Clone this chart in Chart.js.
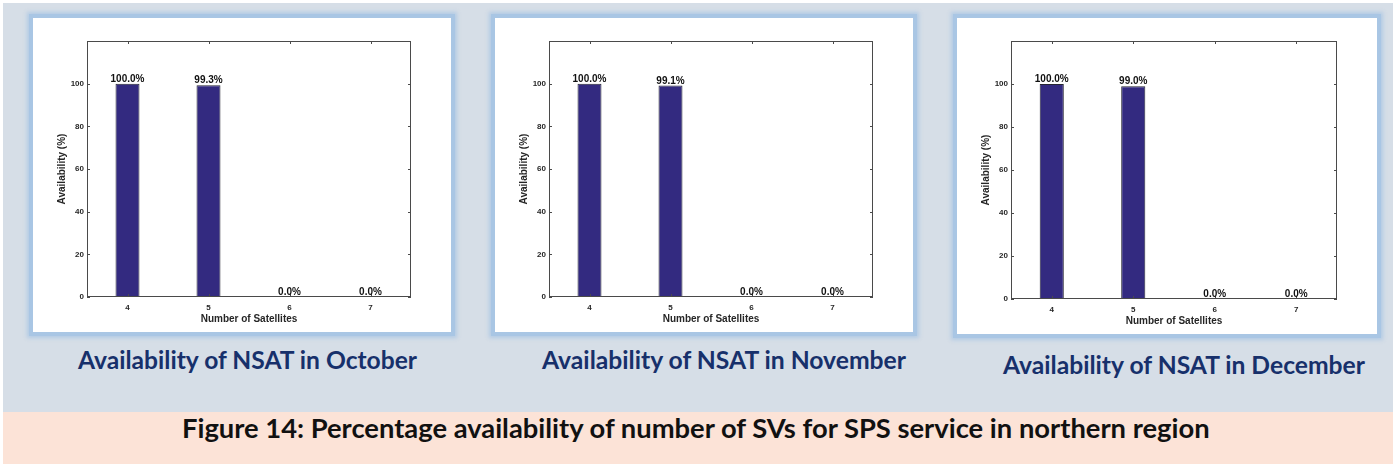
<!DOCTYPE html>
<html>
<head>
<meta charset="utf-8">
<script src="https://cdn.jsdelivr.net/npm/chart.js@4/dist/chart.umd.min.js"></script>
<style>
  body { margin: 0; width: 1397px; height: 466px; background: #fff; position: relative; overflow: hidden; }
  #bg { position: absolute; left: 3px; top: 3px; width: 1390px; height: 409px; background: #d6dee7; }
  #banner { position: absolute; left: 3px; top: 412px; width: 1390px; height: 52px; background: #fce3d7; }
  .panel { position: absolute; background: #fff; border: 4px solid #a9c6e4; box-shadow: 0 0 4px 2px rgba(169, 198, 228, 0.8); }
  .panel canvas { display: block; }
  .cap { position: absolute; font-family: Lato, sans-serif; font-weight: 700; white-space: nowrap; line-height: 1; }
</style>
</head>
<body>
<div id="bg"></div>
<div id="banner"></div>

<div class="panel" style="left:29px;top:14px;"><canvas id="chartOct" width="418" height="314"></canvas></div>
<div class="panel" style="left:491px;top:14px;"><canvas id="chartNov" width="418" height="314"></canvas></div>
<div class="panel" style="left:953px;top:14px;"><canvas id="chartDec" width="420" height="316"></canvas></div>

<div class="cap" id="capOct" style="color:#17306b"></div>
<div class="cap" id="capNov" style="color:#17306b"></div>
<div class="cap" id="capDec" style="color:#17306b"></div>
<div class="cap" id="figCap" style="color:#111"></div>

<script>
// data
const satellites = ["4", "5", "6", "7"];
const octValues = [100.0, 99.3, 0.0, 0.0];
const novValues = [100.0, 99.1, 0.0, 0.0];
const decValues = [100.0, 99.0, 0.0, 0.0];
const yTicks = [0, 20, 40, 60, 80, 100];
const yMax = 120;

const captionOct = "Availability of NSAT in October";
const captionNov = "Availability of NSAT in November";
const captionDec = "Availability of NSAT in December";
const figureCaption = "Figure 14: Percentage availability of number of SVs for SPS service in northern region";

const axisFont = "'Liberation Sans', Arial, sans-serif";

// box around the plot with inward ticks (like matlab)
const frameTicks = {
  id: "frameTicks",
  afterDatasetsDraw(chart) {
    const { ctx, chartArea: a, scales } = chart;
    const x = scales.x, y = scales.y;
    const line = (x1, y1, x2, y2) => {
      ctx.beginPath();
      ctx.moveTo(x1, y1);
      ctx.lineTo(x2, y2);
      ctx.stroke();
    };
    ctx.save();
    ctx.strokeStyle = "#4a4a4a";
    ctx.lineWidth = 1;
    ctx.strokeRect(Math.round(a.left) + 0.5, Math.round(a.top) + 0.5,
      Math.round(a.width) - 1, Math.round(a.height) - 1);
    yTicks.forEach((v) => {
      const py = Math.round(y.getPixelForValue(v)) + 0.5;
      line(a.left, py, a.left + 3, py);
      line(a.right - 3, py, a.right, py);
    });
    x.ticks.forEach((t, i) => {
      const px = Math.round(x.getPixelForTick(i)) + 0.5;
      line(px, a.bottom, px, a.bottom - 3);
      line(px, a.top, px, a.top + 3);
    });
    ctx.restore();
  },
};

// percentage labels above the bars
const barLabels = {
  id: "barLabels",
  afterDatasetsDraw(chart) {
    const ctx = chart.ctx;
    const meta = chart.getDatasetMeta(0);
    const values = chart.data.datasets[0].data;
    ctx.save();
    ctx.font = "bold 10px " + axisFont;
    ctx.fillStyle = "#111";
    ctx.textAlign = "center";
    ctx.textBaseline = "alphabetic";
    meta.data.forEach((bar, i) => {
      ctx.fillText(values[i].toFixed(1) + "%", bar.x, bar.y - 2);
    });
    ctx.restore();
  },
};

function makeChart(id, values) {
  const ctx = document.getElementById(id);
  return new Chart(ctx, {
    type: "bar",
    data: {
      labels: satellites,
      datasets: [
        {
          data: values,
          backgroundColor: "#332a80",
          borderColor: "#262633",
          borderWidth: 1,
          barPercentage: 0.296,
          categoryPercentage: 1,
        },
      ],
    },
    options: {
      responsive: false,
      animation: false,
      devicePixelRatio: 1,
      layout: { padding: { top: 23, right: 40, left: 0, bottom: 0 } },
      plugins: { legend: { display: false }, tooltip: { enabled: false } },
      scales: {
        x: {
          grid: { display: false, drawTicks: false },
          border: { display: false },
          ticks: { color: "#262626", padding: 6, font: { family: axisFont, size: 8, weight: "bold" } },
          title: {
            display: true,
            text: "Number of Satellites",
            color: "#262626",
            font: { family: axisFont, size: 10, weight: "bold" },
            padding: { top: 0, bottom: 7 },
          },
          afterFit: (s) => { s.height = 35; },
        },
        y: {
          min: 0,
          max: yMax,
          grid: { display: false, drawTicks: false },
          border: { display: false },
          ticks: {
            stepSize: 20,
            color: "#262626",
            padding: 3,
            font: { family: axisFont, size: 8, weight: "bold" },
            callback: (v) => (yTicks.includes(v) ? v : null),
          },
          title: {
            display: true,
            text: "Availability (%)",
            color: "#262626",
            font: { family: axisFont, size: 10, weight: "bold" },
            padding: { top: 23.5, bottom: 0 },
          },
          afterFit: (s) => { s.width = 54; },
        },
      },
    },
    plugins: [frameTicks, barLabels],
  });
}

makeChart("chartOct", octValues);
makeChart("chartNov", novValues);
makeChart("chartDec", decValues);

// captions: size the text to the width it has in the figure
function placeText(id, text, left, right, capMid) {
  const el = document.getElementById(id);
  el.textContent = text;
  const m = document.createElement("canvas").getContext("2d");
  m.font = "bold 100px Lato";
  const fs = (100 * (right - left)) / m.measureText(text).width;
  el.style.fontSize = fs + "px";
  el.style.left = left + "px";
  el.style.top = capMid - 0.53 * fs + "px";
}

placeText("capOct", captionOct, 78, 419, 361);
placeText("capNov", captionNov, 542, 908, 361);
placeText("capDec", captionDec, 1003, 1367, 366);
placeText("figCap", figureCaption, 182, 1213, 428);
</script>
</body>
</html>
